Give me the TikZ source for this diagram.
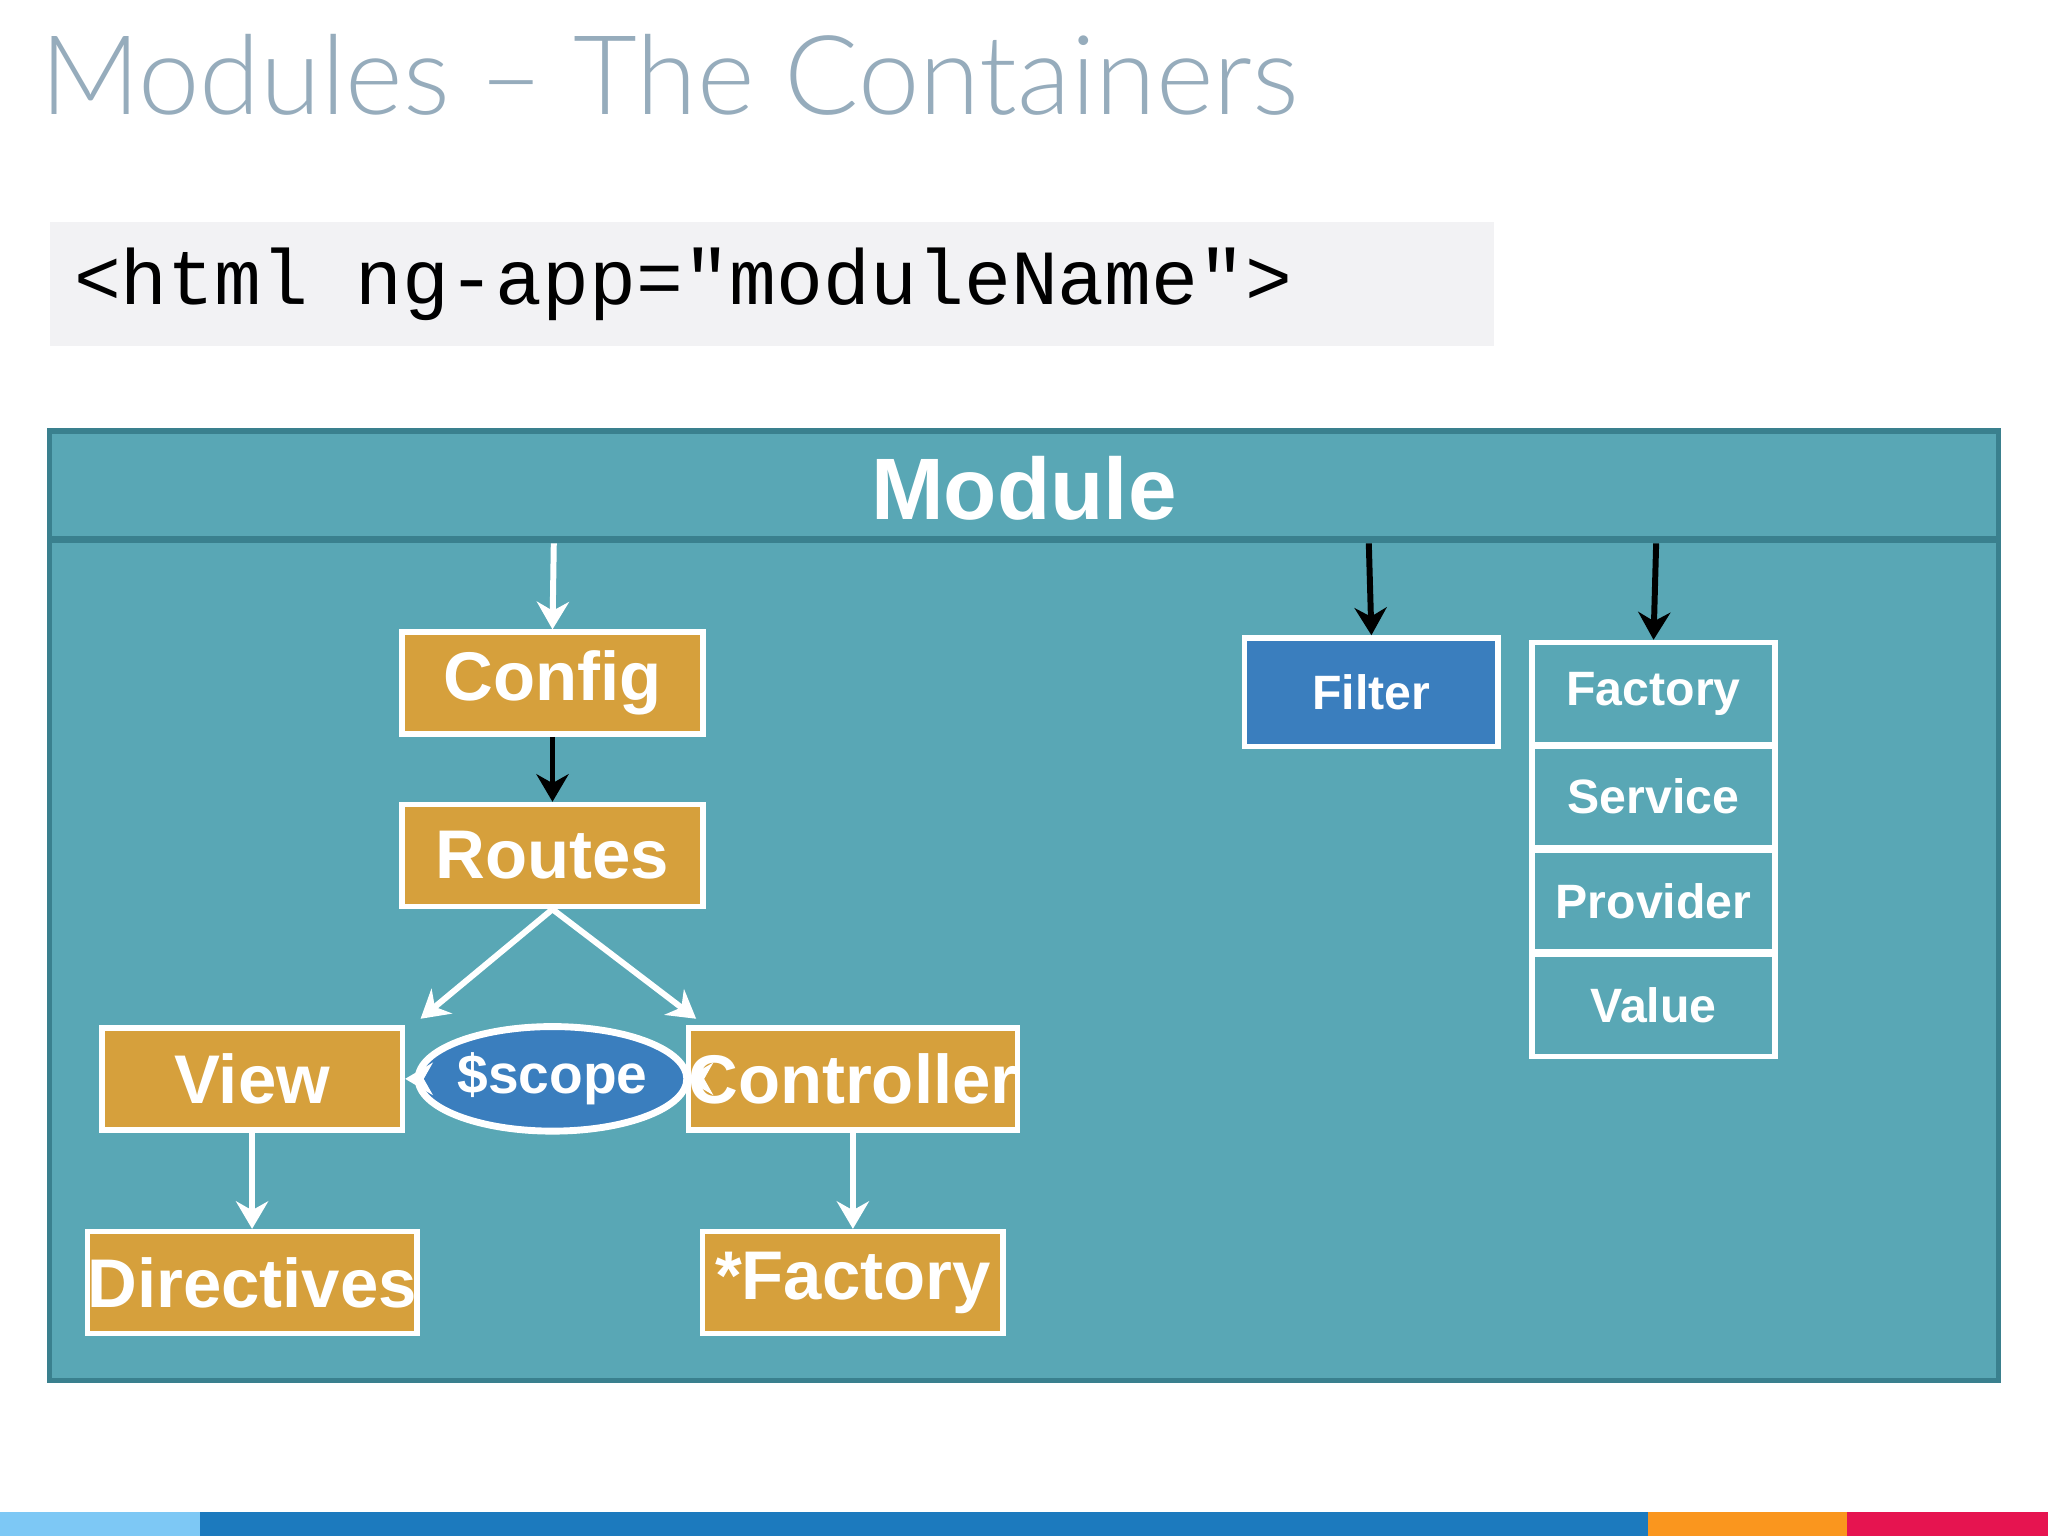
\documentclass[tikz,border=0pt]{standalone}
\usepackage{fontspec}
\setmainfont{Liberation Sans}
\newfontfamily\titlefont{Lato Light}
\newfontfamily\codefont{Liberation Mono}
\usetikzlibrary{shapes.geometric,arrows.meta}
\definecolor{teal}{RGB}{89,167,181}
\definecolor{tealdark}{RGB}{58,128,142}
\definecolor{gold}{RGB}{214,160,60}
\definecolor{bluebox}{RGB}{58,126,190}
\definecolor{titlec}{RGB}{150,172,188}
\begin{document}
\begin{tikzpicture}[x=0.01cm,y=-0.01cm,
  gbox/.style={draw=white,line width=1.2pt,fill=gold,minimum width=2.3cm,minimum height=0.78cm,inner sep=0pt,text=white,font=\bfseries\fontsize{15}{15}\selectfont},
  sbox/.style={draw=white,line width=1.2pt,fill=teal,minimum width=1.86cm,minimum height=0.78cm,inner sep=0pt,text=white,font=\bfseries\fontsize{10.5}{12}\selectfont},
  warr/.style={draw=white,line width=1.3pt,-{Stealth[length=6pt,width=7pt]}},
  barr/.style={draw=black,line width=1.3pt,-{Stealth[length=6pt,width=7pt]}}]
\useasboundingbox (0,0) rectangle (1568,1176);
\fill[white] (0,0) rectangle (1568,1176);
\node[anchor=base west,inner sep=0pt,text=titlec,font=\titlefont\fontsize{24}{24}\selectfont] (title) at (30,88) {Modules – The Containers};
\fill[fill={rgb,255:red,242;green,242;blue,244}] (38,170) rectangle (1144,265);
\node[anchor=west,inner sep=0pt,font=\codefont\fontsize{17}{17}\selectfont] (code) at (56,218) {<html ng-app="moduleName">};
\draw[draw=tealdark,line width=1.2pt,fill=teal] (38,330) rectangle (1530,1057);
\draw[draw=tealdark,line width=1.5pt] (38,413) -- (1530,413);
\node[text=white,font=\bfseries\fontsize{19}{19}\selectfont] (mod) at (784,374) {Module};
\coordinate (c0) at (424,416);
\coordinate (f0) at (1048,416);
\coordinate (s0) at (1268,416);
\node[gbox] (config) at (423,523) {Config};
\node[gbox] (routes) at (423,655) {Routes};
\node[gbox] (view) at (193,826) {View};
\node[gbox] (ctrl) at (653,826) {Controller};
\node[gbox] (dir) at (193,982) {Directives};
\node[gbox] (fac) at (653,982) {*Factory};
\node[ellipse,draw=white,line width=1.5pt,fill=bluebox,minimum width=1.3cm,minimum height=0.8cm,inner sep=0pt,text=white,font=\bfseries\fontsize{12}{12}\selectfont] (scope) at (423,826) {\$scope};
\node[draw=white,line width=1.2pt,fill=bluebox,minimum width=1.94cm,minimum height=0.83cm,inner sep=0pt,text=white,font=\bfseries\fontsize{10.5}{12}\selectfont] (filter) at (1050,530) {Filter};
\node[sbox] (sfac) at (1266,531) {Factory};
\node[sbox] (serv) at (1266,610) {Service};
\node[sbox] (prov) at (1266,690) {Provider};
\node[sbox] (val) at (1266,770) {Value};
\coordinate (rl) at (322,780);
\coordinate (rr) at (533,780);
\draw[warr] (c0) -- (config.north);
\draw[barr] (config.south) -- (routes.north);
\draw[warr] (routes.south) -- (rl);
\draw[warr] (routes.south) -- (rr);
\draw[warr] (scope.west) -- (view.east);
\draw[warr] (scope.east) -- (ctrl.west);
\draw[warr] (view.south) -- (dir.north);
\draw[warr] (ctrl.south) -- (fac.north);
\draw[barr] (f0) -- (filter.north);
\draw[barr] (s0) -- (sfac.north);
\fill[fill={rgb,255:red,125;green,200;blue,245}] (0,1158) rectangle (153,1176);
\fill[fill={rgb,255:red,28;green,122;blue,190}] (153,1158) rectangle (1262,1176);
\fill[fill={rgb,255:red,250;green,150;blue,30}] (1262,1158) rectangle (1414,1176);
\fill[fill={rgb,255:red,230;green,20;blue,80}] (1414,1158) rectangle (1568,1176);
\end{tikzpicture}
\end{document}
